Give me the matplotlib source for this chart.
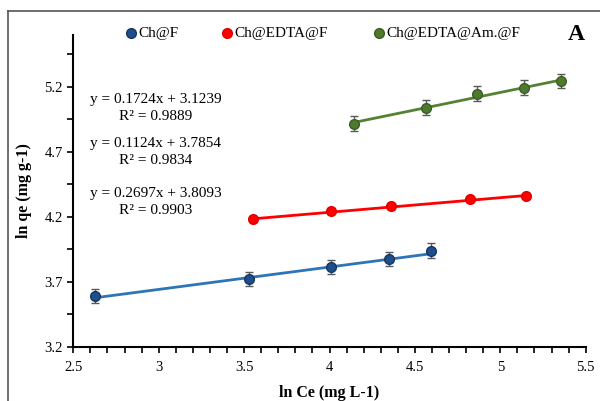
import numpy as np
import matplotlib
matplotlib.use('Agg')
import matplotlib.pyplot as plt
from matplotlib.lines import Line2D

plt.rcParams['font.family'] = ['Liberation Serif', 'DejaVu Serif']

# isotherm data (ln Ce, ln qe) for the three adsorbents
x_f = [2.625, 3.529, 4.008, 4.346, 4.594]
y_f = [3.593, 3.722, 3.814, 3.873, 3.940]
err_f = [0.055, 0.055, 0.055, 0.055, 0.055]

x_edta = [3.554, 4.011, 4.358, 4.823, 5.150]
y_edta = [4.181, 4.245, 4.280, 4.335, 4.363]
err_edta = [0.02, 0.02, 0.02, 0.02, 0.02]

x_am = [4.142, 4.567, 4.864, 5.139, 5.357]
y_am = [4.918, 5.041, 5.149, 5.195, 5.247]
err_am = [0.055, 0.055, 0.055, 0.055, 0.055]

# linear fits (slope, intercept, R2)
fit_f = (0.1724, 3.1239, 0.9889)
fit_edta = (0.1124, 3.7854, 0.9834)
fit_am = (0.2697, 3.8093, 0.9903)

labels = ['Ch@F', 'Ch@EDTA@F', 'Ch@EDTA@Am.@F']
xticks = [2.5, 3, 3.5, 4, 4.5, 5, 5.5]
xtick_labels = ['2.5', '3', '3.5', '4', '4.5', '5', '5.5']
yticks = [3.2, 3.7, 4.2, 4.7, 5.2]
ytick_labels = ['3.2', '3.7', '4.2', '4.7', '5.2']

fig = plt.figure(figsize=(6, 4.01), dpi=100)
ax = fig.add_axes([0.1222, 0.1354, 0.854, 0.7773])

series = [
    (x_f, y_f, err_f, fit_f, '#2E75B6', '#1F4E8C', '#17365D'),
    (x_edta, y_edta, err_edta, fit_edta, '#FF0000', '#FF0000', '#E00000'),
    (x_am, y_am, err_am, fit_am, '#548235', '#4E7A2E', '#3B5E22'),
]

for xs, ys, es, fit, lc, mc, ec in series:
    xs = np.array(xs)
    xl = np.array([xs.min(), xs.max()])
    ax.plot(xl, fit[0] * xl + fit[1], color=lc, lw=2.0, zorder=2)
    ax.errorbar(xs, ys, yerr=es, fmt='o', color=mc, mec=ec, mew=1.0, ms=7,
                ecolor='#595959', elinewidth=1.0, capsize=3, capthick=1.0, zorder=3)

ax.set_xlim(2.5, 5.5)
ax.set_ylim(3.2, 5.6)
ax.set_xticks(xticks)
ax.set_xticklabels(xtick_labels)
ax.set_xticks(np.arange(2.5, 5.51, 0.1), minor=True)
ax.set_yticks(yticks)
ax.set_yticklabels(ytick_labels)
ax.set_yticks(np.arange(3.2, 5.61, 0.25), minor=True)
ax.tick_params(which='both', direction='out', length=4, width=1.2, labelsize=10.5, color='black')
ax.tick_params(axis='x', pad=6)
for s in ['top', 'right']:
    ax.spines[s].set_visible(False)
for s in ['left', 'bottom']:
    ax.spines[s].set_linewidth(1.5)

ax.set_xlabel('ln Ce (mg L-1)', fontsize=11.5, fontweight='bold', labelpad=8)
ax.set_ylabel('ln qe (mg g-1)', fontsize=11.5, fontweight='bold', labelpad=9)

# equations of the fitted lines
for fit, yp in [(fit_f, 99), (fit_edta, 143), (fit_am, 193)]:
    fig.text(156 / 600, 1 - yp / 401, 'y = %.4fx + %.4f' % (fit[0], fit[1]),
             ha='center', va='center', fontsize=11)
    fig.text(156 / 600, 1 - (yp + 17.5) / 401, 'R² = %.4f' % fit[2],
             ha='center', va='center', fontsize=11)

# legend row along the top
for (xm, lab), (_, _, _, _, lc, mc, ec) in zip([(131, labels[0]), (227, labels[1]), (379, labels[2])], series):
    fig.add_artist(Line2D([xm / 600], [1 - 33 / 401], marker='o', ms=7, color=mc, mec=ec,
                          transform=fig.transFigure))
    fig.text((xm + 7) / 600, 1 - 33 / 401, lab, ha='left', va='center', fontsize=11)

fig.text(576 / 600, 1 - 35 / 401, 'A', ha='center', va='center', fontsize=17, fontweight='bold')

# outer frame lines
fig.add_artist(Line2D([8 / 600, 1], [1 - 11 / 401, 1 - 11 / 401], color='#555555', lw=1.2,
                      transform=fig.transFigure))
fig.add_artist(Line2D([8 / 600, 8 / 600], [0, 1 - 11 / 401], color='#555555', lw=1.2,
                      transform=fig.transFigure))

fig.savefig('out.png', dpi=100)
